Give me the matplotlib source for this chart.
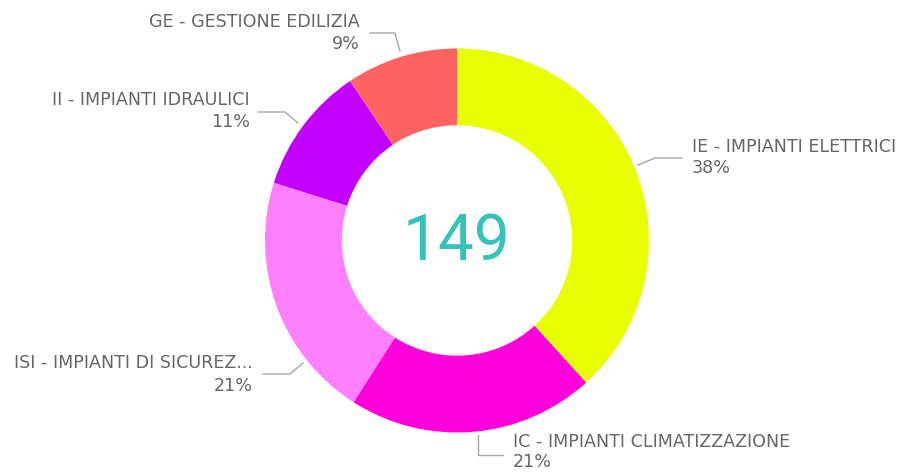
import matplotlib
matplotlib.use("Agg")
import matplotlib.pyplot as plt

categories = ["IE - IMPIANTI ELETTRICI", "IC - IMPIANTI CLIMATIZZAZIONE",
              "ISI - IMPIANTI DI SICUREZ...", "II - IMPIANTI IDRAULICI",
              "GE - GESTIONE EDILIZIA"]
values = [57, 31, 31, 16, 14]
pct_labels = ["38%", "21%", "21%", "11%", "9%"]
colors = ["#E8FF00", "#FF00DC", "#FF80FF", "#C300FF", "#FF6361"]
total_label = "149"

W, H = 912, 472
fig = plt.figure(figsize=(W / 100, H / 100), dpi=100)
ax = fig.add_axes([0, 0, 1, 1])

cx, cy, R = 457, H - 240.5, 192
ax.pie(values, colors=colors, startangle=90, counterclock=False,
       center=(cx, cy), radius=R, wedgeprops=dict(width=R * 0.4, linewidth=0),
       frame=True)
ax.set_xlim(0, W)
ax.set_ylim(0, H)
ax.axis("off")

ax.text(cx, cy - 1, total_label, ha="center", va="center", fontsize=46,
        color="#33C3BA", family="Roboto")

tcol = "#666666"
lcol = "#A6A6A6"
fs = 12.6
fam = "DejaVu Sans"

def Y(y):
    return H - y

# label info: (x anchor, y line1, y line2, ha, leader points)
layout = [
    (692, 147, 168, "left", [(638, 165), (655, 158), (682, 158)]),
    (513, 442, 462, "left", [(478, 435), (478, 455), (503, 455)]),
    (253, 363, 386, "right", [(303, 363), (290, 374), (263, 374)]),
    (250, 100, 122, "right", [(298, 123), (285, 112), (258, 112)]),
    (360, 22, 44, "right", [(400, 51), (395, 33), (370, 33)]),
]

for cat, pct, (x, y1, y2, ha, pts) in zip(categories, pct_labels, layout):
    ax.text(x, Y(y1), cat, ha=ha, va="center", fontsize=fs, color=tcol, family=fam)
    ax.text(x, Y(y2), pct, ha=ha, va="center", fontsize=fs, color=tcol, family=fam)
    ax.plot([p[0] for p in pts], [Y(p[1]) for p in pts], color=lcol, lw=1)

fig.savefig("out.png", dpi=100)
